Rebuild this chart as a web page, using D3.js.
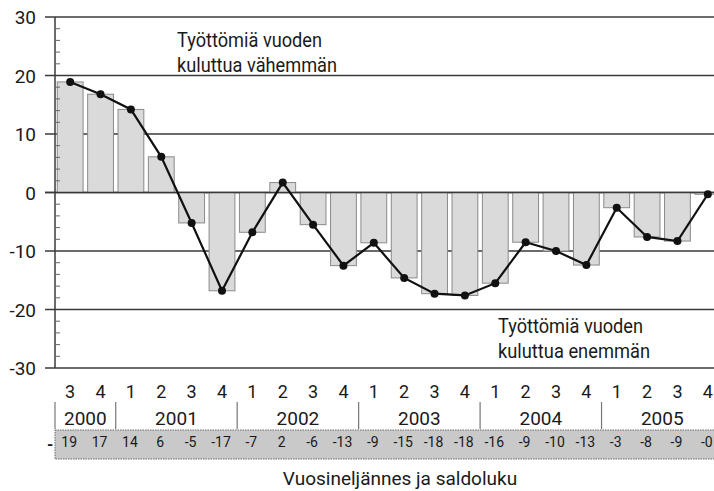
<head>
  <meta charset="UTF-8">
  <title>Työttömiä vuoden kuluttua</title>
  <script src="https://d3js.org/d3.v7.min.js"></script>
  <style>
    body { margin: 0; background: #fff; }
    svg { display: block; }
    text { font-family: Roboto, "Liberation Sans", sans-serif; fill: #1a1a1a; }
  </style>
</head>
<body>
  <div id="chart"></div>
  <script>
    // Quarter labels, years and saldo values
    const quarters = ["3","4","1","2","3","4","1","2","3","4","1","2","3","4","1","2","3","4","1","2","3","4"];
    const years = ["2000","2001","2002","2003","2004","2005"];
    const yearQuarters = [2, 4, 4, 4, 4, 4];
    const saldo = [18.9, 16.8, 14.2, 6.1, -5.2, -16.8, -6.8, 1.7, -5.5, -12.5, -8.6, -14.6,
                   -17.3, -17.6, -15.5, -8.5, -10.0, -12.4, -2.6, -7.6, -8.3, -0.3];
    const saldoLabels = ["19","17","14","6","-5","-17","-7","2","-6","-13","-9","-15",
                         "-18","-18","-16","-9","-10","-13","-3","-8","-9","-0"];
    const yTicks = [30, 20, 10, 0, -10, -20, -30];
    const yMinor = d3.range(-28, 30, 2).filter(v => v % 10 !== 0);

    const W = 714, H = 491;
    const svg = d3.select("#chart").append("svg")
      .attr("width", W).attr("height", H);

    // scales
    const x = d3.scaleBand()
      .domain(d3.range(saldo.length))
      .range([55, 723])
      .paddingInner(0.15)
      .paddingOuter(0.075);
    const y = d3.scaleLinear().domain([-30, 30]).range([368, 17]);
    const cx = i => x(i) + x.bandwidth() / 2;

    // gridlines
    svg.append("g").selectAll("line")
      .data(yTicks).join("line")
      .attr("x1", 45).attr("x2", W)
      .attr("y1", d => y(d)).attr("y2", d => y(d))
      .attr("stroke", "#3a3a3a").attr("stroke-width", 1.5);

    // y tick labels
    svg.append("g").selectAll("text")
      .data(yTicks).join("text")
      .attr("x", 36).attr("y", d => y(d) + 7)
      .attr("text-anchor", "end")
      .style("font-size", "19px")
      .text(d => d);

    // bars
    svg.append("g").selectAll("rect")
      .data(saldo).join("rect")
      .attr("x", (d, i) => x(i))
      .attr("y", d => y(Math.max(0, d)))
      .attr("width", x.bandwidth())
      .attr("height", d => Math.abs(y(d) - y(0)))
      .attr("fill", "#dadada")
      .attr("stroke", "#8a8a8a")
      .attr("stroke-width", 1);

    // zero line over bars
    svg.append("line")
      .attr("x1", 45).attr("x2", W)
      .attr("y1", y(0)).attr("y2", y(0))
      .attr("stroke", "#3a3a3a").attr("stroke-width", 1.5);

    // y axis + minor ticks
    svg.append("line")
      .attr("x1", 55).attr("x2", 55)
      .attr("y1", y(30)).attr("y2", y(-30))
      .attr("stroke", "#3a3a3a").attr("stroke-width", 1.5);
    svg.append("g").selectAll("line")
      .data(yMinor).join("line")
      .attr("x1", 55).attr("x2", 60)
      .attr("y1", d => y(d)).attr("y2", d => y(d))
      .attr("stroke", "#666").attr("stroke-width", 1);

    // line + dots
    const line = d3.line().x((d, i) => cx(i)).y(d => y(d));
    svg.append("path")
      .datum(saldo)
      .attr("d", line)
      .attr("fill", "none")
      .attr("stroke", "#111")
      .attr("stroke-width", 2.2);
    svg.append("g").selectAll("circle")
      .data(saldo).join("circle")
      .attr("cx", (d, i) => cx(i)).attr("cy", d => y(d))
      .attr("r", 4).attr("fill", "#111");

    // annotations (condensed to match the original lettering)
    const note = (x0, y0, lines, widths) => {
      svg.append("g").selectAll("text")
        .data(lines).join("text")
        .attr("x", x0).attr("y", (d, i) => y0 + i * 25)
        .attr("textLength", (d, i) => widths[i])
        .attr("lengthAdjust", "spacingAndGlyphs")
        .style("font-size", "20px")
        .text(d => d);
    };
    note(177, 47, ["Työttömiä vuoden", "kuluttua vähemmän"], [145, 160]);
    note(498, 333, ["Työttömiä vuoden", "kuluttua enemmän"], [145, 152]);

    // quarter labels
    svg.append("g").selectAll("text")
      .data(quarters).join("text")
      .attr("x", (d, i) => cx(i)).attr("y", 398)
      .attr("text-anchor", "middle")
      .style("font-size", "18px")
      .text(d => d);

    // years with separators
    const yearStart = d3.cumsum([0].concat(yearQuarters.slice(0, -1)));
    const step = x.step();
    svg.append("g").selectAll("line")
      .data(yearStart).join("line")
      .attr("x1", d => x(d) - step * 0.075).attr("x2", d => x(d) - step * 0.075)
      .attr("y1", 402).attr("y2", 429)
      .attr("stroke", "#777").attr("stroke-width", 1.2);
    svg.append("g").selectAll("text")
      .data(years).join("text")
      .attr("x", (d, i) => (cx(yearStart[i]) + cx(yearStart[i] + yearQuarters[i] - 1)) / 2)
      .attr("y", 425)
      .attr("text-anchor", "middle")
      .style("font-size", "19px")
      .text(d => d);

    // saldo table band
    svg.append("rect")
      .attr("x", 55).attr("y", 430)
      .attr("width", W - 55 + 5).attr("height", 29)
      .attr("fill", "#c9c9c9")
      .attr("stroke", "#6a6a6a").attr("stroke-width", 1)
      .attr("stroke-dasharray", "1.5,1");
    svg.append("g").selectAll("text")
      .data(saldoLabels).join("text")
      .attr("x", (d, i) => cx(i) - 1).attr("y", 447)
      .attr("text-anchor", "middle")
      .style("font-size", "14px")
      .text(d => d);
    svg.append("text")
      .attr("x", 47).attr("y", 450)
      .style("font-size", "16px").style("font-weight", "bold")
      .text("-");

    // axis title
    svg.append("text")
      .attr("x", 400).attr("y", 485)
      .attr("text-anchor", "middle")
      .style("font-size", "19px")
      .text("Vuosineljännes ja saldoluku");
  </script>
</body>
